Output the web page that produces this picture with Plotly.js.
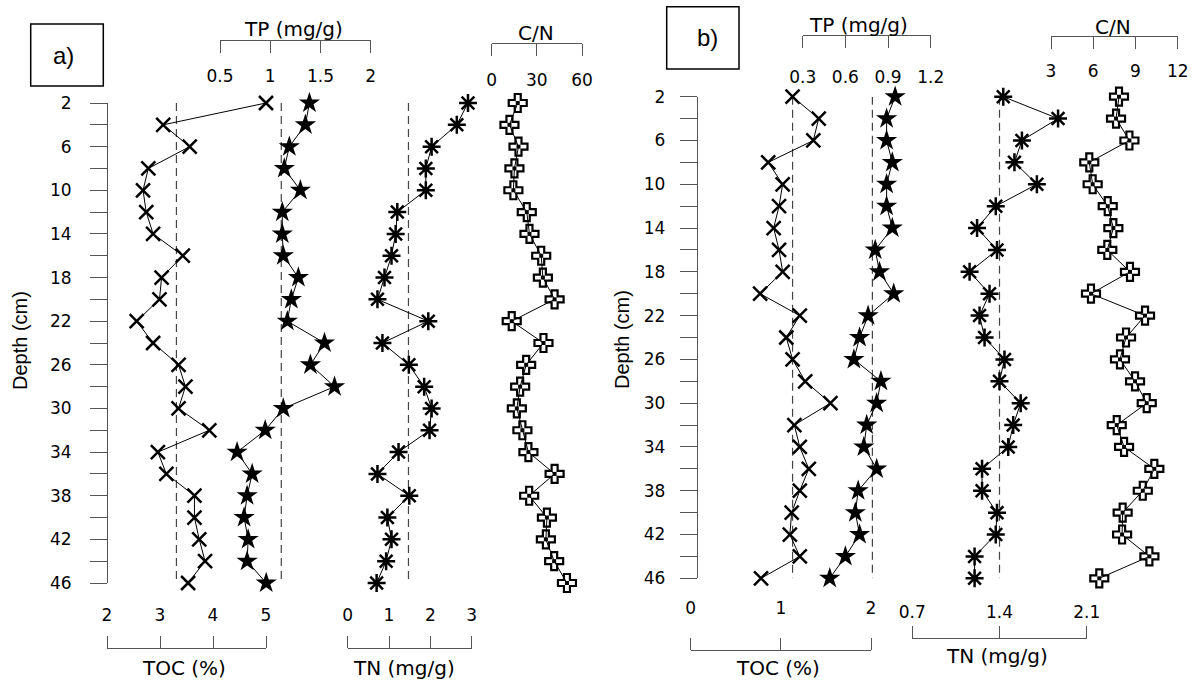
<!DOCTYPE html>
<html>
<head>
<meta charset="utf-8">
<script src="https://cdn.plot.ly/plotly-3.0.1.min.js"></script>
<style>html,body{margin:0;padding:0;background:#fff}#chart{width:1197px;height:682px}</style>
</head>
<body>
<div id="chart"></div>
<script>
// ---------------- data ----------------
const depth = [2,4,6,8,10,12,14,16,18,20,22,24,26,28,30,32,34,36,38,40,42,44,46];
const depthTickText = ['2','','6','','10','','14','','18','','22','','26','','30','','34','','38','','42','','46'];

// panel a)
const tocA = [5.00,3.06,3.56,2.78,2.68,2.74,2.87,3.43,3.03,2.99,2.56,2.87,3.35,3.48,3.35,3.93,2.96,3.12,3.65,3.65,3.74,3.85,3.53];
const tpA  = [1.39,1.35,1.19,1.14,1.30,1.12,1.12,1.13,1.28,1.21,1.17,1.54,1.40,1.64,1.13,0.95,0.67,0.82,0.77,0.74,0.78,0.77,0.96];
const tnA  = [2.91,2.64,2.03,1.89,1.89,1.20,1.16,1.06,0.89,0.72,1.95,0.84,1.48,1.85,2.03,1.98,1.23,0.72,1.49,0.96,1.06,0.93,0.70];
const cnA  = [17.3,11.8,17.8,15.1,14.4,23.3,25.1,32.9,34.0,41.8,13.3,34.4,22.9,18.9,16.7,20.4,24.4,41.8,24.9,36.7,36.0,41.5,50.0];
const tocMeanA = 3.31, tpMeanA = 1.11, tnMeanA = 1.47;

// panel b)
const tocB = [1.13,1.42,1.36,0.86,1.02,0.98,0.92,0.98,1.02,0.77,1.21,1.06,1.13,1.27,1.55,1.15,1.21,1.31,1.21,1.12,1.10,1.21,0.78];
const tpB  = [0.95,0.89,0.89,0.93,0.89,0.89,0.93,0.81,0.84,0.94,0.76,0.70,0.66,0.85,0.82,0.75,0.73,0.82,0.69,0.67,0.70,0.60,0.49];
const tnB  = [1.43,1.87,1.58,1.52,1.70,1.37,1.22,1.38,1.16,1.32,1.24,1.28,1.44,1.40,1.57,1.51,1.47,1.26,1.26,1.38,1.37,1.20,1.20];
const cnB  = [7.83,7.62,8.57,5.72,5.96,7.03,7.43,7.00,8.61,5.84,9.68,8.33,7.90,8.97,9.80,7.67,8.19,10.34,9.52,8.09,8.05,9.99,6.43];
const tocMeanB = 1.13, tpMeanB = 0.79, tnMeanB = 1.40;

// axis ticks
const tocATicks = [2,3,4,5],      tocALabels = ['2','3','4','5'];
const tpATicks  = [0.5,1,1.5,2],  tpALabels  = ['0.5','1','1.5','2'];
const tnATicks  = [0,1,2,3],      tnALabels  = ['0','1','2','3'];
const cnATicks  = [0,30,60],      cnALabels  = ['0','30','60'];
const tocBTicks = [0,1,2],        tocBLabels = ['0','1','2'];
const tpBTicks  = [0.3,0.6,0.9,1.2], tpBLabels = ['0.3','0.6','0.9','1.2'];
const tnBTicks  = [0.7,1.4,2.1],  tnBLabels  = ['0.7','1.4','2.1'];
const cnBTicks  = [3,6,9,12],     cnBLabels  = ['3','6','9','12'];

// ---------------- layout helpers ----------------
const W = 1197, H = 682;
const px = v => v / W;
const py = v => 1 - v / H;
const AX = '#555';
const tickFont = {family: 'DejaVu Sans, sans-serif', size: 17, color: '#000'};
const titleFont = {family: 'DejaVu Sans, sans-serif', size: 20, color: '#000'};

function xAxis(x0, x1, range, vals, text, lineY, side, standoff) {
  return {
    domain: [px(x0), px(x1)], range: range,
    tickmode: 'array', tickvals: vals, ticktext: text,
    anchor: 'free', position: py(lineY), side: side,
    showline: true, linecolor: AX, linewidth: 1,
    ticks: 'outside', ticklen: 12, tickcolor: AX, tickwidth: 1,
    showgrid: false, zeroline: false, tickfont: tickFont,
    ticklabelstandoff: standoff, fixedrange: true
  };
}
function yAxis(xPos, yTop, yBot, standoff) {
  return {
    domain: [py(yBot), py(yTop)], range: [46, 2],
    tickmode: 'array', tickvals: depth, ticktext: depthTickText,
    anchor: 'free', position: px(xPos), side: 'left',
    showline: true, linecolor: AX, linewidth: 1,
    ticks: 'outside', ticklen: 17, tickcolor: AX, tickwidth: 1,
    showgrid: false, zeroline: false, tickfont: tickFont,
    ticklabelstandoff: standoff, fixedrange: true
  };
}

const markerX    = {symbol: 'x-thin-open', size: 14, color: '#000', line: {color: '#000', width: 2.5}};
const markerStar = {symbol: 'star', size: 16, color: '#000', line: {color: '#000', width: 0}};
const markerAst  = {symbol: 'asterisk-open', size: 15, color: '#000', line: {color: '#000', width: 2.5}};
const markerAstC = {symbol: 'circle', size: 5, color: '#000', line: {width: 0}};
const markerCN   = {symbol: 'cross-open', size: 15, color: '#000', line: {color: '#000', width: 2.2}};
const markerCNC  = {symbol: 'square', size: 4, color: '#000', line: {width: 0}};

function series(xv, xa, ya, marker) {
  return {x: xv, y: depth, xaxis: xa, yaxis: ya, type: 'scatter', mode: 'lines+markers',
          line: {color: '#000', width: 1}, marker: marker, cliponaxis: false, hoverinfo: 'skip'};
}
function centres(xv, xa, ya, marker) {
  return {x: xv, y: depth, xaxis: xa, yaxis: ya, type: 'scatter', mode: 'markers',
          marker: marker, cliponaxis: false, hoverinfo: 'skip'};
}
function meanLine(m, xa, ya) {
  return {x: [m, m], y: [depth[0], depth[depth.length - 1]], xaxis: xa, yaxis: ya, type: 'scatter',
          mode: 'lines', line: {color: '#444', width: 1.2, dash: '8px,5px'}, hoverinfo: 'skip', cliponaxis: false};
}

const data = [
  meanLine(tocMeanA, 'x', 'y'), meanLine(tpMeanA, 'x2', 'y'), meanLine(tnMeanA, 'x3', 'y'),
  series(tocA, 'x', 'y', markerX), series(tpA, 'x2', 'y', markerStar),
  series(tnA, 'x3', 'y', markerAst), centres(tnA, 'x3', 'y', markerAstC),
  series(cnA, 'x4', 'y', markerCN), centres(cnA, 'x4', 'y', markerCNC),
  meanLine(tocMeanB, 'x5', 'y2'), meanLine(tpMeanB, 'x6', 'y2'), meanLine(tnMeanB, 'x7', 'y2'),
  series(tocB, 'x5', 'y2', markerX), series(tpB, 'x6', 'y2', markerStar),
  series(tnB, 'x7', 'y2', markerAst), centres(tnB, 'x7', 'y2', markerAstC),
  series(cnB, 'x8', 'y2', markerCN), centres(cnB, 'x8', 'y2', markerCNC)
];

function ann(text, x, y, font, angle) {
  return {text: text, x: px(x), y: py(y), xref: 'paper', yref: 'paper', showarrow: false,
          xanchor: 'center', yanchor: 'middle', font: font, textangle: angle || 0};
}
const depthFont = {family: 'Liberation Sans, Arial, sans-serif', size: 20, color: '#000'};
const boxFont = {family: 'Liberation Sans, Arial, sans-serif', size: 24, color: '#000'};

const layout = {
  width: W, height: H, margin: {l: 0, r: 0, t: 0, b: 0},
  paper_bgcolor: '#fff', plot_bgcolor: 'rgba(0,0,0,0)', showlegend: false, hovermode: false,
  // panel a)
  yaxis:  yAxis(107, 103, 583, 15),
  xaxis:  xAxis(107, 266, [2, 5], tocATicks, tocALabels, 648, 'top', 8),
  xaxis2: xAxis(220, 370.7, [0.5, 2], tpATicks, tpALabels, 40, 'bottom', 9),
  xaxis3: xAxis(347.7, 471.7, [0, 3], tnATicks, tnALabels, 648, 'top', 8),
  xaxis4: xAxis(491.7, 582, [0, 60], cnATicks, cnALabels, 42.7, 'bottom', 10),
  // panel b)
  yaxis2: yAxis(696.7, 96.7, 578.3, 11),
  xaxis5: xAxis(690.7, 871, [0, 2], tocBTicks, tocBLabels, 650, 'top', 17),
  xaxis6: xAxis(802.7, 930.7, [0.3, 1.2], tpBTicks, tpBLabels, 35, 'bottom', 15),
  xaxis7: xAxis(912.3, 1086.7, [0.7, 2.1], tnBTicks, tnBLabels, 637.7, 'top', 1),
  xaxis8: xAxis(1051, 1177.7, [3, 12], cnBTicks, cnBLabels, 36, 'bottom', 8),
  annotations: [
    ann('TP (mg/g)', 293, 29, titleFont), ann('C/N', 536, 33, titleFont),
    ann('TOC (%)', 184, 668, titleFont), ann('TN (mg/g)', 404, 668, titleFont),
    ann('TP (mg/g)', 858, 25, titleFont), ann('C/N', 1113, 27, titleFont),
    ann('TOC (%)', 778, 668, titleFont), ann('TN (mg/g)', 997, 656, titleFont),
    ann('Depth (cm)', 20, 341, depthFont, -90), ann('Depth (cm)', 622, 340, depthFont, -90),
    ann('a)', 63, 55, boxFont), ann('b)', 707, 38, boxFont)
  ],
  shapes: [
    {type: 'rect', xref: 'paper', yref: 'paper', x0: px(30.7), x1: px(103.3), y0: py(86), y1: py(24), line: {color: '#000', width: 1.5}},
    {type: 'rect', xref: 'paper', yref: 'paper', x0: px(666.7), x1: px(739), y0: py(69), y1: py(6.7), line: {color: '#000', width: 1.5}}
  ]
};

Plotly.newPlot('chart', data, layout, {staticPlot: true, displayModeBar: false});
</script>
</body>
</html>
